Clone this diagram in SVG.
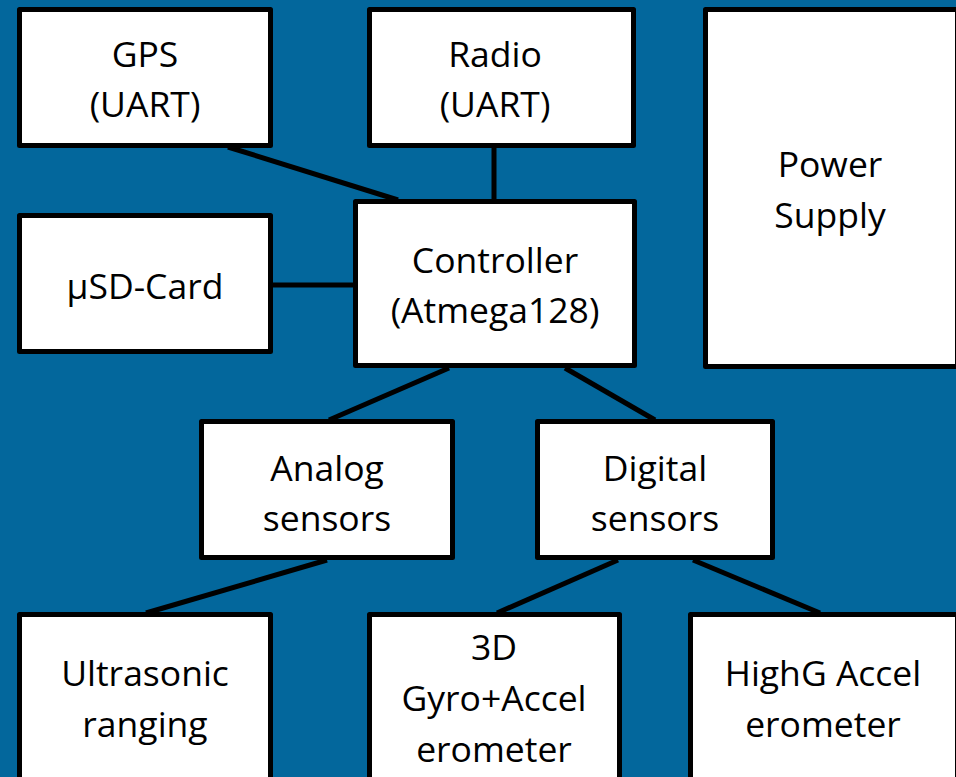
<svg xmlns="http://www.w3.org/2000/svg" width="956" height="777" viewBox="0 0 956 777">
<style>
.box{fill:#fff;stroke:#000;stroke-width:5;stroke-linejoin:round}
.t{font-family:"Open Sans","Liberation Sans",sans-serif;font-size:35.5px;fill:#000;text-anchor:middle}
.c{stroke:#000;stroke-width:5;fill:none}
</style>
<rect width="956" height="777" fill="#03679c"/>
<g id="connectors">
<line class="c" x1="228" y1="147" x2="398" y2="200"/>
<line class="c" x1="494" y1="148" x2="494" y2="200"/>
<line class="c" x1="273" y1="285" x2="354" y2="285"/>
<line class="c" x1="449" y1="368" x2="329" y2="420"/>
<line class="c" x1="565" y1="368" x2="655" y2="420"/>
<line class="c" x1="327" y1="560" x2="146" y2="613"/>
<line class="c" x1="618" y1="560" x2="497" y2="613"/>
<line class="c" x1="693" y1="560" x2="820" y2="613"/>
</g>
<g id="gps"><rect class="box" x="19.5" y="9.5" width="251" height="136"/><text class="t" x="145" y="67">GPS</text><text class="t" x="145" y="117">(UART)</text></g>
<g id="radio"><rect class="box" x="369.5" y="9.5" width="264" height="136"/><text class="t" x="495" y="67">Radio</text><text class="t" x="495" y="117">(UART)</text></g>
<g id="power"><rect class="box" x="705.5" y="9.5" width="252" height="357"/><text class="t" x="830" y="177">Power</text><text class="t" x="830" y="228">Supply</text></g>
<g id="controller"><rect class="box" x="355.5" y="201.5" width="279" height="164"/><text class="t" x="495" y="273">Controller</text><text class="t" x="495" y="323">(Atmega128)</text></g>
<g id="usd"><rect class="box" x="19.5" y="215.5" width="251" height="136"/><text class="t" x="145" y="299">µSD-Card</text></g>
<g id="analog"><rect class="box" x="201.5" y="421.5" width="251" height="136"/><text class="t" x="327" y="481">Analog</text><text class="t" x="327" y="531">sensors</text></g>
<g id="digital"><rect class="box" x="537.5" y="421.5" width="235" height="136"/><text class="t" x="655" y="481">Digital</text><text class="t" x="655" y="531">sensors</text></g>
<g id="ultrasonic"><rect class="box" x="19.5" y="614.5" width="251" height="180"/><text class="t" x="145" y="686">Ultrasonic</text><text class="t" x="145" y="737">ranging</text></g>
<g id="gyro"><rect class="box" x="369.5" y="614.5" width="250" height="180"/><text class="t" x="494" y="660">3D</text><text class="t" x="494" y="711">Gyro+Accel</text><text class="t" x="494" y="762">erometer</text></g>
<g id="highg"><rect class="box" x="690.5" y="614.5" width="267" height="180"/><text class="t" x="823" y="686">HighG Accel</text><text class="t" x="823" y="737">erometer</text></g>
</svg>
